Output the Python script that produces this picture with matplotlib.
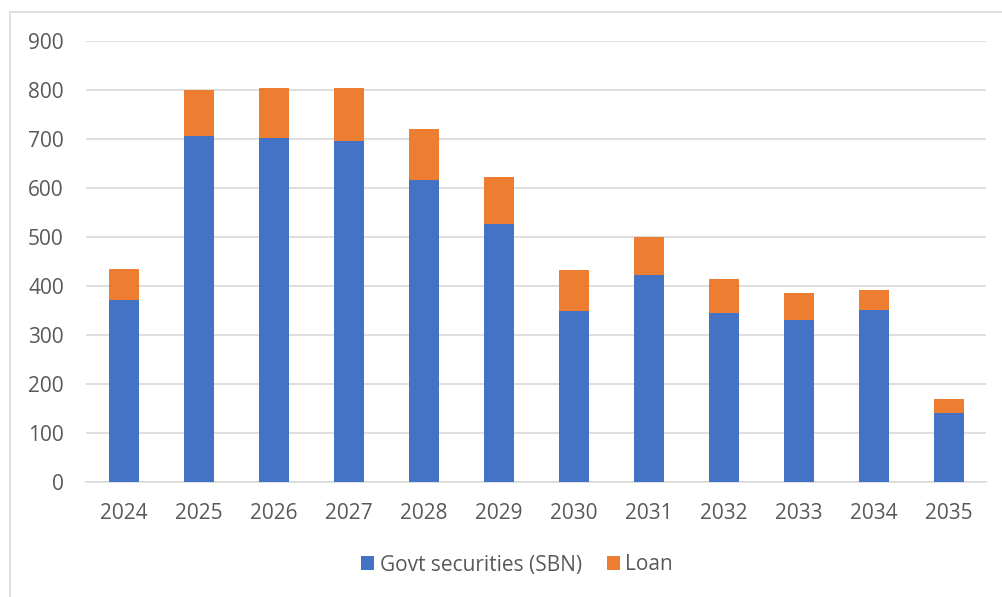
import matplotlib.pyplot as plt
from matplotlib.patches import Rectangle

# data
years = ['2024', '2025', '2026', '2027', '2028', '2029',
         '2030', '2031', '2032', '2033', '2034', '2035']
sbn = [371, 705, 702, 696, 616, 526, 348, 422, 345, 330, 351, 140]
loan = [64, 95, 101, 107, 104, 96, 85, 77, 68, 55, 40, 29]

blue = '#4472C4'
orange = '#ED7D31'
grey_txt = '#595959'

plt.rcParams['font.family'] = ['Open Sans', 'DejaVu Sans']

fig = plt.figure(figsize=(10.02, 5.97), dpi=100)
ax = fig.add_axes([86 / 1002, 1 - 481.7 / 597, 900 / 1002, (481.7 - 40.7) / 597])

x = range(len(years))
ax.bar(x, sbn, width=0.4, color=blue, label='Govt securities (SBN)', zorder=3)
ax.bar(x, loan, width=0.4, bottom=sbn, color=orange, label='Loan', zorder=3)

ax.set_xlim(-0.5, len(years) - 0.5)
ax.set_ylim(0, 900)
ax.set_yticks(range(0, 901, 100))
ax.set_xticks(list(x))
ax.set_xticklabels(years)
ax.grid(axis='y', color='#D9D9D9', linewidth=1.2, zorder=0)
for s in ['top', 'right', 'left']:
    ax.spines[s].set_visible(False)
ax.spines['bottom'].set_color('#D9D9D9')
ax.spines['bottom'].set_linewidth(1.2)
ax.tick_params(length=0, labelsize=15, labelcolor=grey_txt)
ax.tick_params(axis='x', pad=15)
ax.tick_params(axis='y', pad=16)

ax.legend(loc='center', bbox_to_anchor=(517 / 1002, (597 - 565) / 597), bbox_transform=fig.transFigure,
          ncol=2, frameon=False, fontsize=15, labelcolor=grey_txt,
          handlelength=0.65, handleheight=0.65, handletextpad=0.25, columnspacing=1.2)

# outer chart border
fig.patches.append(Rectangle((10 / 1002, -0.05), 1.1, 1 - 11.7 / 597 + 0.05,
                             transform=fig.transFigure, fill=False,
                             edgecolor='#D9D9D9', linewidth=1.2))

fig.savefig('out.png', dpi=100)
